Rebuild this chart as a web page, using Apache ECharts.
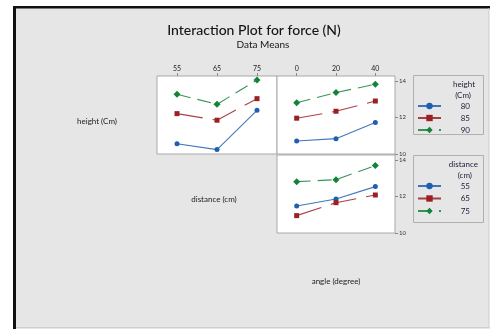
<!DOCTYPE html>
<html>
<head>
<meta charset="utf-8">
<script src="https://cdn.jsdelivr.net/npm/echarts@6/dist/echarts.min.js"></script>
<style>html,body{margin:0;padding:0;background:#fff}#c{width:490px;height:329px}</style>
</head>
<body>
<div id="c"></div>
<script>
// ---- data ----
var distanceLevels = ['55', '65', '75'];
var angleLevels = ['0', '20', '40'];
var heightLevels = ['80', '85', '90'];
var yTicks = [10, 12, 14];

// height x distance (mean force)
var h80_vs_distance = [10.56, 10.24, 12.39];
var h85_vs_distance = [12.21, 11.85, 13.03];
var h90_vs_distance = [13.27, 12.72, 14.05];
// height x angle
var h80_vs_angle = [10.71, 10.84, 11.72];
var h85_vs_angle = [11.96, 12.34, 12.90];
var h90_vs_angle = [12.81, 13.36, 13.82];
// distance x angle
var d55_vs_angle = [11.48, 11.86, 12.54];
var d65_vs_angle = [10.95, 11.66, 12.08];
var d75_vs_angle = [12.81, 12.92, 13.69];

var FONT = 'Lato';
var colors = ['#1f5fb0', '#9c1f24', '#13833a'];
var dashes = ['solid', [26, 10], [14, 7]];
var symbols = ['circle', 'rect', 'diamond'];
var symSizes = [5, 5, 7];

function mk(name, data, idx, k) {
  return {
    type: 'line', name: name, data: data, xAxisIndex: idx, yAxisIndex: idx,
    symbol: symbols[k], symbolSize: symSizes[k],
    itemStyle: {color: colors[k]},
    lineStyle: {color: colors[k], width: 1.1, type: dashes[k], opacity: 0.85},
    emphasis: {disabled: true}, animation: false
  };
}

function xAx(idx, cats, show) {
  return {
    type: 'category', gridIndex: idx, data: cats, position: 'top', boundaryGap: true,
    axisLine: {show: false},
    axisTick: {show: show, alignWithLabel: true, length: 3, lineStyle: {color: '#888'}},
    axisLabel: {show: show, fontSize: 7, fontFamily: FONT, color: '#222', margin: 4},
    splitLine: {show: false}
  };
}
function yAx(idx, show) {
  return {
    type: 'value', gridIndex: idx, min: 10, max: 14.27, position: 'right',
    axisLine: {show: false},
    axisTick: {show: show, length: 3, customValues: yTicks, lineStyle: {color: '#888'}},
    axisLabel: {show: show, fontSize: 6, fontFamily: FONT, color: '#333', margin: 4,
      customValues: yTicks},
    splitLine: {show: false}
  };
}

var gridBase = {show: true, backgroundColor: '#ffffff', borderColor: '#a8a8a8', borderWidth: 1};

var legendRich = {a: {width: 24, align: 'right', fontSize: 8, fontFamily: FONT, color: '#1b1b3a'}};

var option = {
  backgroundColor: '#ffffff',
  animation: false,
  graphic: [
    {type: 'rect', shape: {x: 13, y: 6, width: 477, height: 323}, style: {fill: '#111'}, z: -10},
    {type: 'rect', shape: {x: 16, y: 8.5, width: 474, height: 320.5}, style: {fill: '#e6e6e6'}, z: -9},
    {type: 'line', shape: {x1: 16, y1: 327.5, x2: 490, y2: 327.5}, style: {stroke: '#cfcfcf', lineWidth: 1}, z: -8},
    {type: 'line', shape: {x1: 488.5, y1: 8.5, x2: 488.5, y2: 328}, style: {stroke: '#d8d8d8', lineWidth: 1}, z: -8},
    {type: 'rect', shape: {x: 413.5, y: 75.5, width: 70, height: 59}, style: {fill: 'none', stroke: '#b0b0b0', lineWidth: 1}},
    {type: 'rect', shape: {x: 413.5, y: 155.5, width: 70, height: 67}, style: {fill: 'none', stroke: '#b0b0b0', lineWidth: 1}},
    {type: 'text', style: {text: 'height', x: 475, y: 84, align: 'right', verticalAlign: 'middle', fontSize: 8, fontFamily: FONT, fill: '#1b1b3a'}},
    {type: 'text', style: {text: '(Cm)', x: 471, y: 95, align: 'right', verticalAlign: 'middle', fontSize: 8, fontFamily: FONT, fill: '#1b1b3a'}},
    {type: 'text', style: {text: 'distance', x: 478, y: 164, align: 'right', verticalAlign: 'middle', fontSize: 8, fontFamily: FONT, fill: '#1b1b3a'}},
    {type: 'text', style: {text: '(cm)', x: 472, y: 175, align: 'right', verticalAlign: 'middle', fontSize: 8, fontFamily: FONT, fill: '#1b1b3a'}},
    {type: 'text', style: {text: 'height (Cm)', x: 97, y: 121, align: 'center', verticalAlign: 'middle', fontSize: 8, fontFamily: FONT, fill: '#222'}},
    {type: 'text', style: {text: 'distance (cm)', x: 214, y: 199, align: 'center', verticalAlign: 'middle', fontSize: 8, fontFamily: FONT, fill: '#222'}},
    {type: 'text', style: {text: 'angle (degree)', x: 336, y: 281, align: 'center', verticalAlign: 'middle', fontSize: 8, fontFamily: FONT, fill: '#222'}},
    {type: 'text', style: {text: 'Interaction Plot for force (N)', x: 254, y: 30, align: 'center', verticalAlign: 'middle', fontSize: 14, fontWeight: 500, fontFamily: FONT, fill: '#151515'}},
    {type: 'text', style: {text: 'Data Means', x: 263, y: 45, align: 'center', verticalAlign: 'middle', fontSize: 10, fontFamily: FONT, fill: '#151515'}}
  ],
  grid: [
    Object.assign({left: 157, top: 76, width: 120, height: 78}, gridBase),
    Object.assign({left: 277, top: 76, width: 118, height: 78}, gridBase),
    Object.assign({left: 277, top: 155, width: 118, height: 78}, gridBase)
  ],
  xAxis: [xAx(0, distanceLevels, true), xAx(1, angleLevels, true), xAx(2, angleLevels, false)],
  yAxis: [yAx(0, false), yAx(1, true), yAx(2, true)],
  legend: [
    {data: heightLevels, orient: 'vertical', left: 417, top: 102, itemWidth: 23, itemHeight: 8, itemGap: 4,
      padding: 0, selectedMode: false, formatter: function (n) { return '{a|' + n + '}'; },
      textStyle: {rich: legendRich}},
    {data: distanceLevels.map(function (d) { return 'd' + d; }), orient: 'vertical', left: 417, top: 182, itemWidth: 23, itemHeight: 8, itemGap: 4.5,
      padding: 0, selectedMode: false, formatter: function (n) { return '{a|' + n.slice(1) + '}'; },
      textStyle: {rich: legendRich}}
  ],
  series: [
    mk(heightLevels[0], h80_vs_distance, 0, 0),
    mk(heightLevels[1], h85_vs_distance, 0, 1),
    mk(heightLevels[2], h90_vs_distance, 0, 2),
    mk(heightLevels[0], h80_vs_angle, 1, 0),
    mk(heightLevels[1], h85_vs_angle, 1, 1),
    mk(heightLevels[2], h90_vs_angle, 1, 2),
    mk('d' + distanceLevels[0], d55_vs_angle, 2, 0),
    mk('d' + distanceLevels[1], d65_vs_angle, 2, 1),
    mk('d' + distanceLevels[2], d75_vs_angle, 2, 2)
  ]
};
var chart = echarts.init(document.getElementById('c'), null, {renderer: 'canvas'});
chart.setOption(option);
</script>
</body>
</html>
